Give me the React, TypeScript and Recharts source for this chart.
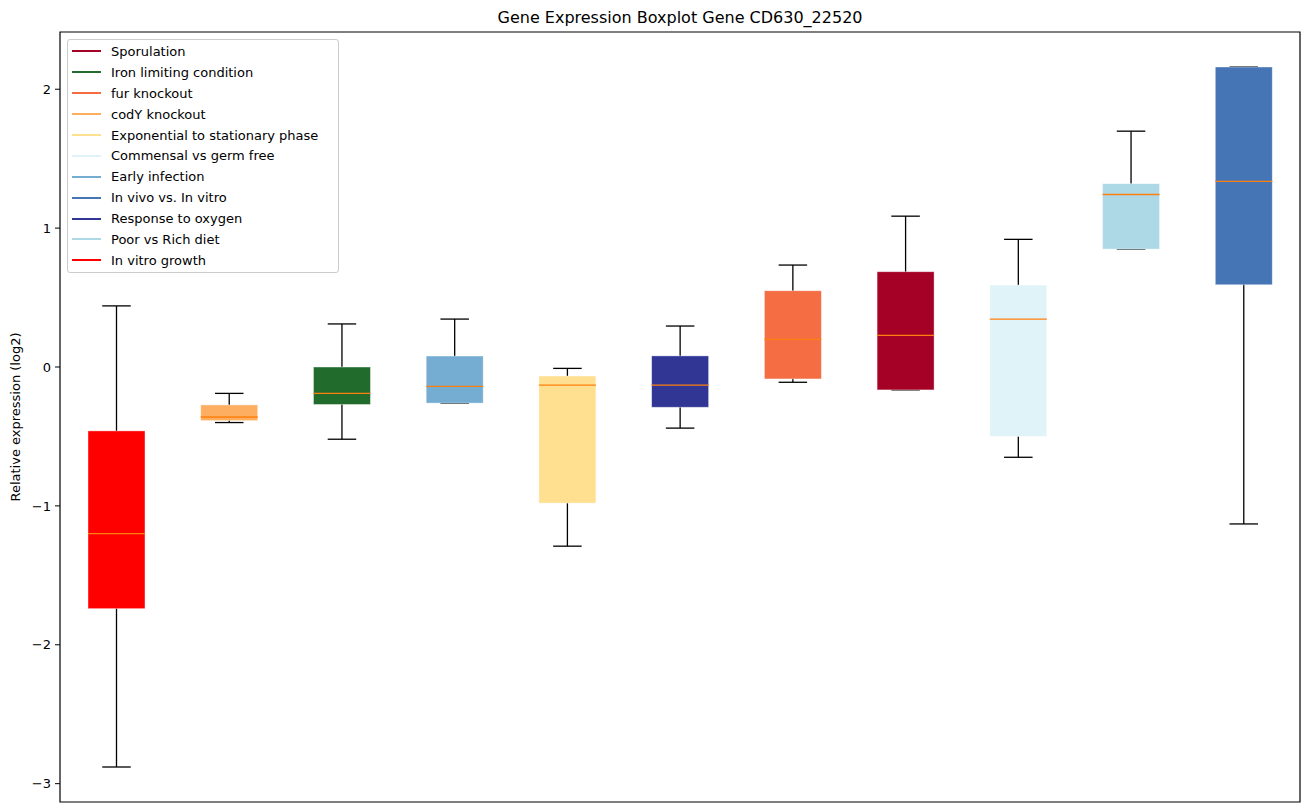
import React from 'react';
import { ComposedChart, Bar, XAxis, YAxis, Legend, Label, ReferenceArea } from 'recharts';

const categories = [
  'In vitro growth',
  'codY knockout',
  'Iron limiting condition',
  'Early infection',
  'Exponential to stationary phase',
  'Response to oxygen',
  'fur knockout',
  'Sporulation',
  'Commensal vs germ free',
  'Poor vs Rich diet',
  'In vivo vs. In vitro',
];
const whiskerLow = [-2.88, -0.40, -0.52, -0.26, -1.29, -0.44, -0.11, -0.165, -0.65, 0.849, -1.13];
const q1 = [-1.74, -0.386, -0.27, -0.26, -0.98, -0.29, -0.086, -0.165, -0.50, 0.849, 0.592];
const medians = [-1.20, -0.36, -0.19, -0.14, -0.13, -0.13, 0.199, 0.228, 0.345, 1.242, 1.336];
const q3 = [-0.46, -0.273, 0.0, 0.079, -0.065, 0.08, 0.549, 0.686, 0.59, 1.32, 2.16];
const whiskerHigh = [0.44, -0.19, 0.31, 0.345, -0.01, 0.295, 0.734, 1.086, 0.919, 1.698, 2.16];

const legendLabels = [
  'Sporulation',
  'Iron limiting condition',
  'fur knockout',
  'codY knockout',
  'Exponential to stationary phase',
  'Commensal vs germ free',
  'Early infection',
  'In vivo vs. In vitro',
  'Response to oxygen',
  'Poor vs Rich diet',
  'In vitro growth',
];
const legendColors = [
  '#a50026',
  '#216b2d',
  '#f46d43',
  '#fdae61',
  '#fee090',
  '#e0f3f8',
  '#74add1',
  '#4575b4',
  '#313695',
  '#add8e6',
  '#ff0000',
];

const yTicks = [-3, -2, -1, 0, 1, 2];
const yDomain: [number, number] = [-3.132, 2.412];

const colorOf = (name: string) => legendColors[legendLabels.indexOf(name)];

const data = categories.map((c, i) => ({
  name: c,
  range: [whiskerLow[i], whiskerHigh[i]],
  low: whiskerLow[i],
  q1: q1[i],
  median: medians[i],
  q3: q3[i],
  high: whiskerHigh[i],
  color: colorOf(c),
}));

const FONT = '"DejaVu Sans", sans-serif';

const BoxShape = (props: any) => {
  const { x, y, width, height, payload } = props;
  const top = Math.min(y, y + height);
  const h = Math.abs(height);
  const { low, high, q1: b1, q3: b3, median, color } = payload;
  const span = high - low;
  const pv = (v: number) => (span === 0 ? top : top + ((high - v) / span) * h);
  const cx = x + width / 2;
  const capHalf = width / 4;
  const yHigh = pv(high);
  const yLow = pv(low);
  const yQ1 = pv(b1);
  const yQ3 = pv(b3);
  const yMed = pv(median);
  return (
    <g>
      <line x1={cx} x2={cx} y1={yHigh} y2={yLow} stroke="#000" strokeWidth={1.3} />
      <line x1={cx - capHalf} x2={cx + capHalf} y1={yHigh} y2={yHigh} stroke="#000" strokeWidth={1.3} />
      <line x1={cx - capHalf} x2={cx + capHalf} y1={yLow} y2={yLow} stroke="#000" strokeWidth={1.3} />
      <rect x={x} y={yQ3} width={width} height={Math.max(yQ1 - yQ3, 0.5)} fill={color} stroke="rgba(255,255,255,0.5)" strokeWidth={0.8} />
      <line x1={x} x2={x + width} y1={yMed} y2={yMed} stroke="#ff7f0e" strokeWidth={1.3} />
    </g>
  );
};

const LegendBox = () => (
  <div
    style={{
      width: 272,
      height: 234,
      border: '1px solid #cccccc',
      borderRadius: 3,
      background: 'rgba(255,255,255,0.8)',
      fontFamily: FONT,
      fontSize: 13,
      color: '#000',
      boxSizing: 'border-box',
      paddingTop: 1,
    }}
  >
    {legendLabels.map((l, i) => (
      <div key={l} style={{ display: 'flex', alignItems: 'center', height: 20.9 }}>
        <div style={{ marginLeft: 4, width: 29, height: 2, background: legendColors[i] }} />
        <div style={{ marginLeft: 10, lineHeight: '15px', whiteSpace: 'nowrap' }}>{l}</div>
      </div>
    ))}
  </div>
);

export default function App() {
  return (
    <div style={{ position: 'absolute', left: 0, top: 0, width: 1309, height: 812, background: '#fff' }}>
      <div
        style={{
          position: 'absolute',
          left: 60,
          width: 1240,
          top: 8,
          textAlign: 'center',
          fontFamily: FONT,
          fontSize: 16,
          color: '#000',
          lineHeight: '19px',
        }}
      >
        Gene Expression Boxplot Gene CD630_22520
      </div>
      <ComposedChart
        width={1309}
        height={812}
        data={data}
        margin={{ top: 32, right: 9, bottom: 10, left: 10 }}
        barCategoryGap={0}
      >
        <XAxis dataKey="name" xAxisId="bottom" hide />
        <YAxis
          yAxisId="left"
          type="number"
          domain={yDomain}
          allowDataOverflow
          ticks={yTicks}
          width={50}
          tickSize={5}
          tickMargin={4}
          tickFormatter={(v: number) => (v < 0 ? '\u2212' + Math.abs(v) : String(v))}
          tick={{ fill: '#000', fontSize: 13, fontFamily: FONT }}
          tickLine={{ stroke: '#000', strokeWidth: 1 }}
          axisLine={false}
        >
          <Label
            content={() => (
              <text
                x={20}
                y={417}
                transform="rotate(-90 20 417)"
                textAnchor="middle"
                fontFamily={FONT}
                fontSize={13}
                fill="#000"
              >
                Relative expression (log2)
              </text>
            )}
          />
        </YAxis>
        <Legend
          layout="horizontal"
          verticalAlign="middle"
          align="center"
          wrapperStyle={{ position: 'absolute', left: 67, top: 39, width: 272, height: 234 }}
          content={() => <LegendBox />}
        />
        <Bar
          dataKey="range"
          xAxisId="bottom"
          yAxisId="left"
          barSize={57}
          shape={BoxShape}
          isAnimationActive={false}
        />
        <ReferenceArea
          xAxisId="bottom"
          yAxisId="left"
          y1={yDomain[0]}
          y2={yDomain[1]}
          fill="none"
          fillOpacity={0}
          stroke="#000"
          strokeWidth={1.2}
          ifOverflow="visible"
        />
      </ComposedChart>
    </div>
  );
}
